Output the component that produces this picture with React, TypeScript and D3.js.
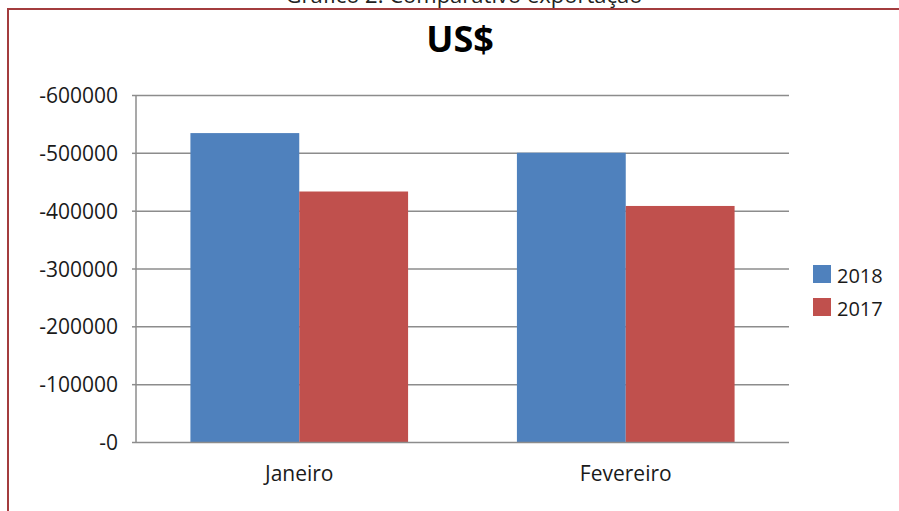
import React from "react";
import * as d3 from "d3";

const categories = ["Janeiro", "Fevereiro"];
const series = ["2018", "2017"];
const values2018 = [535000, 501000];
const values2017 = [434000, 409000];
const yTicks = [0, 100000, 200000, 300000, 400000, 500000, 600000];
const yTickLabels = ["-0", "-100000", "-200000", "-300000", "-400000", "-500000", "-600000"];
const colors = ["#4F81BD", "#C0504D"];
const title = "US$";
const caption = "Gráfico 2: Comparativo exportação";

export default function App() {
  const W = 899, H = 511;
  const left = 136, right = 789, top = 95.5, bottom = 442.5;
  const font = "'Open Sans', sans-serif";
  const y = d3.scaleLinear().domain([0, 600000]).range([bottom, top]);
  const x0 = d3.scaleBand<string>().domain(categories).range([left, right]).padding(0);
  const x1 = d3.scaleBand<string>().domain(series).range([0, x0.bandwidth()]).paddingInner(0).paddingOuter(0.5);
  const data = [values2018, values2017];
  const grid = "#8c8c8c";
  return (
    <svg width={W} height={H} style={{ position: "absolute", left: 0, top: 0, background: "#fff" }}>
      <text x={464} y={3} textAnchor="middle" fontFamily={font} fontSize={22} fill="#222">{caption}</text>
      <rect x={8} y={9} width={1000} height={1000} fill="none" stroke="#A33C3E" strokeWidth={2} />
      <text x={460} y={52} textAnchor="middle" fontFamily={font} fontWeight="bold" fontSize={36} fill="#000">{title}</text>
      {yTicks.map((t, i) => (
        <g key={t}>
          {t > 0 && <line x1={left} x2={right} y1={y(t)} y2={y(t)} stroke={grid} strokeWidth={1.5} />}
          <line x1={left - 4} x2={left} y1={y(t)} y2={y(t)} stroke={grid} strokeWidth={1.5} />
          <text x={118} y={y(t)} dy="0.36em" textAnchor="end" fontFamily={font} fontSize={21} fill="#1a1a1a">{yTickLabels[i]}</text>
        </g>
      ))}
      {categories.map((c, ci) => (
        <g key={c}>
          {series.map((s, si) => (
            <rect key={s} x={(x0(c) as number) + (x1(s) as number)} y={y(data[si][ci])} width={x1.bandwidth()} height={bottom - y(data[si][ci])} fill={colors[si]} />
          ))}
          <text x={(x0(c) as number) + x0.bandwidth() / 2} y={481} textAnchor="middle" fontFamily={font} fontSize={21} fill="#1a1a1a">{c}</text>
        </g>
      ))}
      <line x1={left} x2={left} y1={top} y2={bottom} stroke={grid} strokeWidth={1.5} />
      <line x1={left} x2={right} y1={bottom} y2={bottom} stroke={grid} strokeWidth={1.5} />
      {series.map((s, i) => (
        <g key={s}>
          <rect x={813} y={265 + i * 33} width={18} height={18} fill={colors[i]} />
          <text x={837} y={283 + i * 33} fontFamily={font} fontSize={20} fill="#1a1a1a">{s}</text>
        </g>
      ))}
    </svg>
  );
}
